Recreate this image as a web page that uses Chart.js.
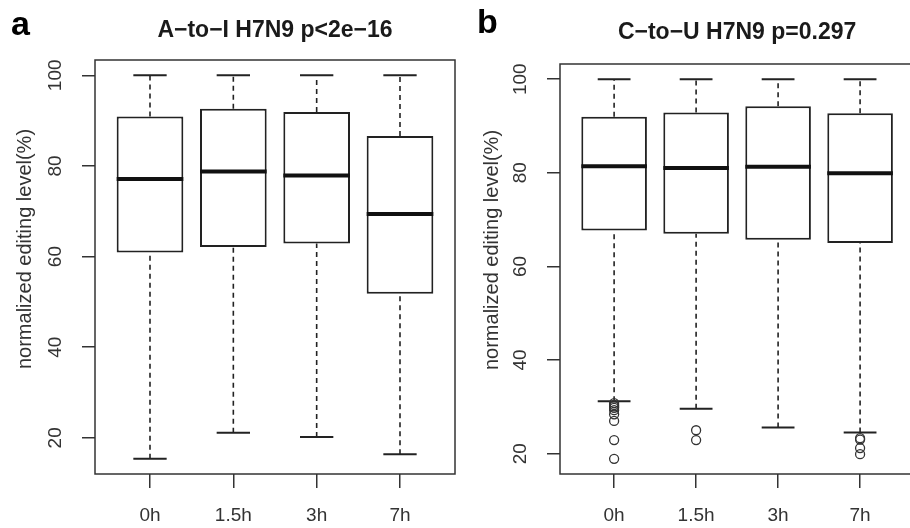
<!DOCTYPE html>
<html>
<head>
<meta charset="utf-8">
<script src="https://cdn.jsdelivr.net/npm/chart.js@4.4.1/dist/chart.umd.min.js"></script>
<style>
  html, body { margin: 0; padding: 0; background: #fff; }
  #wrap { position: relative; width: 910px; height: 528px; overflow: hidden; font-family: "Liberation Sans", Arial, sans-serif; }
  .panel { position: absolute; top: 0; height: 528px; }
  #pa { left: 0; width: 457px; }
  #pb { left: 455px; width: 465px; }
  .tag { position: absolute; font-weight: bold; font-size: 34px; line-height: 1; color: #000; }
</style>
</head>
<body>
<div id="wrap">
  <div class="panel" id="pa"><canvas id="chartA"></canvas></div>
  <div class="panel" id="pb"><canvas id="chartB"></canvas></div>
  <div class="tag" style="left:11px; top:6px">a</div>
  <div class="tag" style="left:477px; top:4px">b</div>
</div>
<script>
const categories = ['0h', '1.5h', '3h', '7h'];
const yTicks = [20, 40, 60, 80, 100];
const yLabel = 'normalized editing level(%)';

// panel a: A-to-I
const aLow = [15.4, 21.1, 20.2, 16.4];
const aQ1 = [60.9, 62.1, 62.9, 51.8];
const aMed = [77.1, 78.8, 77.9, 69.4];
const aQ3 = [90.9, 92.6, 91.9, 86.6];
const aHigh = [100, 100, 100, 100];
const aOut = [[], [], [], []];

// panel b: C-to-U
const bLow = [31.2, 29.6, 25.6, 24.5];
const bQ1 = [67.7, 67.0, 65.7, 65.0];
const bMed = [81.4, 81.0, 81.3, 79.9];
const bQ3 = [92.0, 92.9, 94.2, 92.7];
const bHigh = [100, 100, 100, 100];
const bOut = [[30.8, 30.4, 30.1, 29.8, 29.3, 28.4, 27.0, 22.9, 18.9], [25.0, 22.9], [], [23.3, 23.0, 21.2, 19.9]];

const FONT = '"Liberation Sans", Arial, sans-serif';

// whiskers, caps and medians, placed through the chart's own scales
const whiskers = {
  id: 'whiskers',
  beforeDatasetsDraw(chart, args, o) {
    const {ctx, scales: {x, y}} = chart;
    ctx.save();
    ctx.strokeStyle = '#222';
    categories.forEach((c, i) => {
      const cx = x.getPixelForValue(i + 1);
      ctx.lineWidth = 1.6;
      ctx.setLineDash([5, 4]);
      ctx.beginPath();
      ctx.moveTo(cx, y.getPixelForValue(o.low[i]));
      ctx.lineTo(cx, y.getPixelForValue(o.q1[i]));
      ctx.moveTo(cx, y.getPixelForValue(o.q3[i]));
      ctx.lineTo(cx, y.getPixelForValue(o.high[i]));
      ctx.stroke();
      ctx.setLineDash([]);
      ctx.lineWidth = 2;
      ctx.beginPath();
      [o.low[i], o.high[i]].forEach(v => {
        ctx.moveTo(x.getPixelForValue(i + 0.8), y.getPixelForValue(v));
        ctx.lineTo(x.getPixelForValue(i + 1.2), y.getPixelForValue(v));
      });
      ctx.stroke();
    });
    ctx.restore();
  },
  afterDatasetsDraw(chart, args, o) {
    const {ctx, scales: {x, y}} = chart;
    ctx.save();
    ctx.strokeStyle = '#111';
    ctx.lineWidth = 4;
    ctx.beginPath();
    categories.forEach((c, i) => {
      ctx.moveTo(x.getPixelForValue(i + 0.6), y.getPixelForValue(o.med[i]));
      ctx.lineTo(x.getPixelForValue(i + 1.4), y.getPixelForValue(o.med[i]));
    });
    ctx.stroke();
    ctx.restore();
  }
};

// plot frame and the rotated y-axis texts (R style)
const frame = {
  id: 'frame',
  afterDraw(chart, args, o) {
    const {ctx, chartArea: a, scales: {y}} = chart;
    ctx.save();
    ctx.strokeStyle = '#333';
    ctx.lineWidth = 1.5;
    ctx.strokeRect(a.left, a.top, a.right - a.left, a.bottom - a.top);
    ctx.fillStyle = '#333';
    ctx.font = '19px ' + FONT;
    ctx.textAlign = 'center';
    ctx.textBaseline = 'middle';
    yTicks.forEach(v => {
      ctx.save();
      ctx.translate(o.tickX, y.getPixelForValue(v));
      ctx.rotate(-Math.PI / 2);
      ctx.fillText(String(v), 0, 0);
      ctx.restore();
    });
    ctx.font = '20px ' + FONT;
    ctx.translate(o.labelX, o.labelY);
    ctx.rotate(-Math.PI / 2);
    ctx.fillText(yLabel, 0, 0);
    ctx.restore();
  }
};

function makeChart(id, s) {
  const all = s.low.concat(s.high, s.out.flat());
  const lo = Math.min(...all), hi = Math.max(...all);
  const pad = (hi - lo) * 0.04;
  return new Chart(document.getElementById(id), {
    type: 'bar',
    data: {
      datasets: [{
        type: 'bar',
        data: categories.map((c, i) => ({x: i + 1, y: [s.q1[i], s.q3[i]]})),
        backgroundColor: '#fff',
        borderColor: '#222',
        borderWidth: 2,
        borderSkipped: false,
        barPercentage: 1,
        categoryPercentage: 0.8
      }, {
        type: 'scatter',
        data: s.out.flatMap((arr, i) => arr.map(v => ({x: i + 1, y: v}))),
        pointRadius: 4.5,
        pointBorderWidth: 1.3,
        pointBorderColor: '#333',
        pointBackgroundColor: 'rgba(0,0,0,0)'
      }]
    },
    options: {
      responsive: true,
      maintainAspectRatio: false,
      animation: false,
      layout: {padding: {left: 0, right: s.padRight, top: 0, bottom: 0}},
      scales: {
        x: {
          type: 'linear',
          min: 0.34,
          max: categories.length + 0.66,
          offset: false,
          afterBuildTicks: sc => { sc.ticks = categories.map((c, i) => ({value: i + 1})); },
          afterFit: sc => { sc.height = 54; },
          ticks: {
            callback: v => categories[v - 1],
            font: {family: FONT, size: 19},
            color: '#333',
            padding: 16,
            maxRotation: 0
          },
          grid: {offset: false, drawOnChartArea: false, drawTicks: true, tickLength: 14, color: '#333', lineWidth: 1.5},
          border: {display: false}
        },
        y: {
          type: 'linear',
          min: lo - pad,
          max: hi + pad,
          beginAtZero: false,
          afterBuildTicks: sc => { sc.ticks = yTicks.map(v => ({value: v})); },
          afterFit: sc => { sc.width = s.axisW; },
          ticks: {display: false},
          grid: {drawOnChartArea: false, drawTicks: true, tickLength: 13, color: '#333', lineWidth: 1.5},
          border: {display: false}
        }
      },
      plugins: {
        legend: {display: false},
        tooltip: {enabled: false},
        title: {
          display: true,
          text: s.title,
          fullSize: false,
          color: '#1a1a1a',
          font: {family: FONT, size: 23, weight: 'bold'},
          padding: s.titlePad
        },
        whiskers: {low: s.low, q1: s.q1, med: s.med, q3: s.q3, high: s.high},
        frame: {tickX: s.tickX, labelX: s.labelX, labelY: s.labelY}
      }
    },
    plugins: [whiskers, frame]
  });
}

makeChart('chartA', {
  title: 'A\u2212to\u2212I H7N9 p<2e\u221216',
  low: aLow, q1: aQ1, med: aMed, q3: aQ3, high: aHigh, out: aOut,
  axisW: 95, padRight: 2, titlePad: {top: 17, bottom: 15.4},
  tickX: 56, labelX: 25, labelY: 249
});

makeChart('chartB', {
  title: 'C\u2212to\u2212U H7N9 p=0.297',
  low: bLow, q1: bQ1, med: bMed, q3: bQ3, high: bHigh, out: bOut,
  axisW: 105, padRight: 3, titlePad: {top: 19, bottom: 17.4},
  tickX: 66, labelX: 37, labelY: 250
});
</script>
</body>
</html>
